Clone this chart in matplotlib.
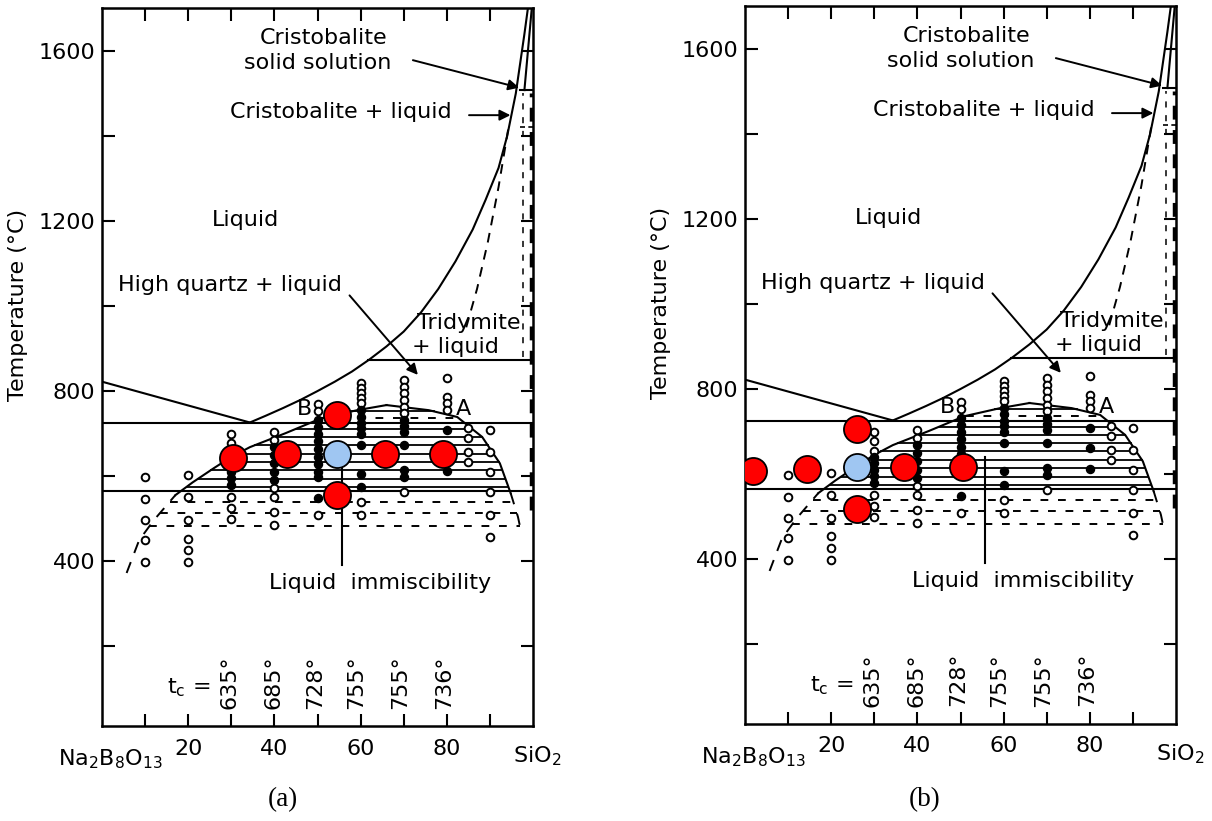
import numpy as np
import matplotlib
matplotlib.use("Agg")
import matplotlib.pyplot as plt

# --- phase diagram lines (composition wt% SiO2, temperature degC) ---
liq_left_x = [0, 34.3]
liq_left_T = [822, 726]
liq_right_x = [34.3, 38, 42, 46, 50, 54, 58, 62, 66, 70, 74, 78, 82, 86, 89, 92, 94, 96, 98, 98.8]
liq_right_T = [726, 742, 760, 779, 800, 822, 846, 874, 905, 940, 985, 1040, 1105, 1180, 1250,
               1325, 1400, 1500, 1640, 1700]
trid_dash_x = [84.5, 87.0, 89.5, 92.0, 94.3]
trid_dash_T = [950, 1040, 1150, 1280, 1420]

# immiscibility dome: left branch (rising) and right branch (falling)
dome_left_x = [5.7, 8.6, 12.0, 17.0, 21.0, 26.0, 30.0, 34.3, 42.6, 50.9, 59.2, 66.0]
dome_left_T = [372, 449, 496, 555, 585, 619, 645, 668, 701, 736, 755, 767]
dome_right_x = [66.0, 75.8, 82.4, 88.2, 92.3, 94.8, 96.5, 97.3]
dome_right_T = [767, 755, 739, 692, 630, 560, 504, 466]
dome_solid_lo = 555
hatch_solid = [575, 594, 614, 634, 653, 673, 692, 711, 752]
hatch_dash = [737, 540, 514, 482]

# measured samples
open_x = ([10] * 5 + [20] * 6 + [30] * 6 + [40] * 6 + [50] * 3 + [60] * 7 + [70] * 7
          + [80] * 4 + [85] * 4 + [90] * 6)
open_T = ([598, 547, 496, 449, 398,
           602, 551, 496, 453, 426, 398,
           700, 678, 655, 551, 524, 500,
           704, 685, 571, 551, 516, 485,
           770, 752, 508,
           818, 806, 795, 783, 771, 540, 508,
           826, 810, 795, 779, 763, 748, 563,
           830, 787, 771, 755,
           712, 689, 657, 634,
           708, 657, 610, 563, 508, 457])
filled_x = ([30] * 5 + [40] * 5 + [50] * 10 + [60] * 8 + [70] * 6 + [80] * 3)
filled_T = ([640, 625, 610, 595, 580,
             668, 650, 630, 610, 590,
             732, 716, 700, 682, 664, 646, 628, 610, 598, 548,
             755, 740, 725, 712, 700, 673, 606, 575,
             732, 718, 704, 673, 614, 598,
             708, 661, 612])

tc_x = [29.5, 39.8, 49.5, 59.0, 69.2, 79.3]
tc_labels = ["635°", "685°", "728°", "755°", "755°", "736°"]

# overlay points for the two panels
a_red_x = [30.3, 43.0, 65.7, 79.0, 54.5, 54.5]
a_red_T = [643, 651, 653, 653, 744, 555]
a_blue_x = [54.5]
a_blue_T = [653]
b_red_x = [1.8, 14.3, 37.0, 50.5, 25.9, 25.9]
b_red_T = [606, 612, 616, 616, 706, 518]
b_blue_x = [25.9]
b_blue_T = [616]

FS = 16
plt.rcParams['font.family'] = ['DejaVu Sans']


def dome_span(T):
    xl = np.interp(T, dome_left_T, dome_left_x)
    xr = np.interp(T, dome_right_T[::-1], dome_right_x[::-1])
    return xl, xr


def draw_panel(ax, red_x, red_T, blue_x, blue_T):
    k = dict(color='k', lw=1.5)
    ax.plot(liq_left_x, liq_left_T, **k)
    ax.plot(liq_right_x, liq_right_T, **k)
    ax.plot([0, 100], [725, 725], **k)
    ax.plot([0, 100], [565, 565], **k)
    ax.plot([61.7, 100], [873, 873], **k)
    ax.plot([97.0, 100], [1508, 1508], **k)
    ax.plot([98.0, 99.7], [1508, 1700], **k)
    ax.plot(trid_dash_x, trid_dash_T, color='k', lw=1.4, ls=(0, (5, 4)))
    ax.plot([97.0, 100], [1422, 1422], color='k', lw=1.2, ls=(0, (3, 2)))
    ax.plot([97.7, 97.7], [880, 1500], color='k', lw=1.1, ls=(0, (4, 5)))
    ax.plot([99.5, 99.5], [520, 1500], color='k', lw=2.5, ls=(0, (4, 3)))

    # dome: solid part and dashed tails
    lx = np.array(dome_left_x); lT = np.array(dome_left_T)
    rx = np.array(dome_right_x); rT = np.array(dome_right_T)
    ax.plot(lx[lT >= dome_solid_lo], lT[lT >= dome_solid_lo], **k)
    ax.plot(rx[rT >= 560], rT[rT >= 560], **k)
    ax.plot(lx[lT <= dome_solid_lo], lT[lT <= dome_solid_lo], color='k', lw=1.4, ls=(0, (6, 5)))
    ax.plot(rx[rT <= 560], rT[rT <= 560], color='k', lw=1.4, ls=(0, (6, 5)))

    for T in hatch_solid:
        xl, xr = dome_span(T)
        ax.plot([xl, xr], [T, T], color='k', lw=1.3)
    for T in hatch_dash:
        xl, xr = dome_span(T)
        ax.plot([xl, xr], [T, T], color='k', lw=1.4, ls=(0, (4, 5)))

    ax.plot([55.6, 55.6], [390, 640], **k)

    ax.plot(open_x, open_T, 'o', ms=5.5, mfc='white', mec='k', mew=1.4, zorder=4)
    ax.plot(filled_x, filled_T, 'o', ms=5.8, mfc='k', mec='k', zorder=4)

    # labels
    ax.text(51.5, 1631, "Cristobalite", ha='center', va='center', fontsize=FS)
    ax.text(50.0, 1572, "solid solution", ha='center', va='center', fontsize=FS)
    ax.annotate("", xy=(97.4, 1512), xytext=(71.5, 1580),
                arrowprops=dict(arrowstyle='-|>', color='k', lw=1.4, mutation_scale=16))
    ax.text(55.5, 1456, "Cristobalite + liquid", ha='center', va='center', fontsize=FS)
    ax.annotate("", xy=(95.4, 1449), xytext=(84.5, 1449),
                arrowprops=dict(arrowstyle='-|>', color='k', lw=1.4, mutation_scale=16))
    ax.text(33.2, 1202, "Liquid", ha='center', va='center', fontsize=FS)
    ax.text(29.7, 1049, "High quartz + liquid", ha='center', va='center', fontsize=FS)
    ax.annotate("", xy=(73.7, 833), xytext=(57.0, 1030),
                arrowprops=dict(arrowstyle='-|>', color='k', lw=1.4, mutation_scale=16))
    ax.text(85.0, 960, "Tridymite", ha='center', va='center', fontsize=FS)
    ax.text(81.9, 904, "+ liquid", ha='center', va='center', fontsize=FS)
    ax.text(47.0, 757, "B", ha='center', va='center', fontsize=FS)
    ax.text(83.8, 757, "A", ha='center', va='center', fontsize=FS)
    ax.text(64.5, 348, "Liquid  immiscibility", ha='center', va='center', fontsize=FS)
    ax.text(20.2, 101, "t$_\\mathregular{c}$ =", ha='center', va='center', fontsize=FS)
    for x, lab in zip(tc_x, tc_labels):
        ax.text(x, 116, lab, ha='center', va='center', rotation=90, fontsize=FS)

    # overlay markers
    ax.plot(red_x, red_T, 'o', ms=19.5, mfc='#ff0000', mec='k', mew=1.3, zorder=6)
    ax.plot(blue_x, blue_T, 'o', ms=19.5, mfc='#9fc6f2', mec='k', mew=1.3, zorder=6)

    ax.set_xlim(0, 100)
    ax.set_ylim(12, 1701)
    ax.set_xticks(np.arange(10, 100, 10))
    ax.set_xticklabels(['', '20', '', '40', '', '60', '', '80', ''])
    ax.set_yticks(np.arange(200, 1700, 200))
    ax.set_yticklabels(['', '400', '', '800', '', '1200', '', '1600'])
    ax.tick_params(direction='in', length=9, width=1.5, top=True, right=True,
                   labelsize=FS, pad=5)
    ax.tick_params(axis='x', pad=9)
    for s in ax.spines.values():
        s.set_linewidth(1.8)
    ax.text(0.019, -0.046, "Na$_\\mathregular{2}$B$_\\mathregular{8}$O$_\\mathregular{13}$",
            transform=ax.transAxes, ha='center', va='center', fontsize=FS)
    ax.text(1.01, -0.042, "SiO$_\\mathregular{2}$", transform=ax.transAxes,
            ha='center', va='center', fontsize=FS)
    ax.text(-0.195, 0.586, "Temperature (°C)", transform=ax.transAxes, rotation=90,
            ha='center', va='center', fontsize=16)


fig = plt.figure(figsize=(12.12, 8.21), dpi=100)
ax_a = fig.add_axes([0.0842, 0.1157, 0.3556, 0.8745])
ax_b = fig.add_axes([0.6147, 0.1182, 0.3556, 0.8745])
draw_panel(ax_a, a_red_x, a_red_T, a_blue_x, a_blue_T)
draw_panel(ax_b, b_red_x, b_red_T, b_blue_x, b_blue_T)
fig.text(0.2335, 0.0256, "(a)", ha='center', va='center', fontsize=19.5, family='Liberation Serif')
fig.text(0.7632, 0.0256, "(b)", ha='center', va='center', fontsize=19.5, family='Liberation Serif')

fig.savefig("out.png", dpi=100)
